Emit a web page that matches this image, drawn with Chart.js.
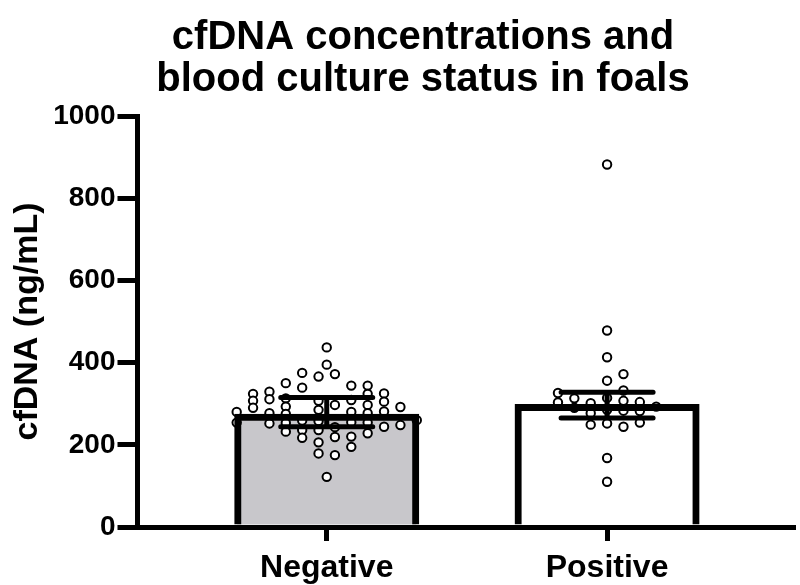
<!DOCTYPE html>
<html>
<head>
<meta charset="utf-8">
<title>cfDNA and blood culture status</title>
<script src="https://cdn.jsdelivr.net/npm/chart.js@4.4.1/dist/chart.umd.min.js"></script>
<style>
  html, body { margin: 0; padding: 0; background: #fff; }
  #wrap { width: 800px; height: 585px; }
</style>
</head>
<body>
<div id="wrap"><canvas id="chart"></canvas></div>
<script>
// Groups and summary values (bar = mean, whiskers = 95% CI).
const categories = ["Negative", "Positive"];
const barMeans = [268, 292];
const ciLow = [244, 265];
const ciHigh = [315, 328];
const yTicks = [0, 200, 400, 600, 800, 1000];

// Individual foals, with the scatter column (slot) each dot sits in.
const negValues = [
  437, 395, 122,
  366, 307, 285, 258, 236, 206, 179,
  372, 297, 243, 219, 175,
  375, 339, 259, 236, 217,
  344, 309, 280, 255, 220, 195,
  350, 313, 293, 275, 253, 232,
  344, 324, 297, 277, 254, 228,
  329, 311, 277, 252,
  325, 305, 281, 244,
  324, 307, 290,
  292, 248,
  280, 254,
  260,
];
const negSlots = [
  0, 0, 0,
  -1, -1, -1, -1, -1, -1, -1,
  1, 1, 1, 1, 1,
  -3, -3, -3, -3, -3,
  3, 3, 3, 3, 3, 3,
  -5, -5, -5, -5, -5, -5,
  5, 5, 5, 5, 5, 5,
  -7, -7, -7, -7,
  7, 7, 7, 7,
  -9, -9, -9,
  9, 9,
  -11, -11,
  11,
];
const posValues = [
  326, 303,
  313, 290,
  301, 277, 249,
  882, 478, 413, 356, 314, 285, 252, 168, 110,
  372, 332, 307, 283, 244,
  304, 282, 254,
  293,
];
const posSlots = [
  -6, -6,
  -4, -4,
  -2, -2, -2,
  0, 0, 0, 0, 0, 0, 0, 0, 0,
  2, 2, 2, 2, 2,
  4, 4, 4,
  6,
];

const SLOT = 0.0292;      // one scatter column, in x-axis units
const FONT = "'Liberation Sans', Arial, Helvetica, sans-serif";

const points = [];
negValues.forEach((v, i) => points.push({ x: 0 + negSlots[i] * SLOT, y: v }));
posValues.forEach((v, i) => points.push({ x: 1 + posSlots[i] * SLOT, y: v }));

const bars = barMeans.map((v, i) => ({ x: i, y: v }));

// Draw the CI whiskers on top of everything.
const errorBars = {
  id: "errorBars",
  afterDatasetsDraw(chart) {
    const { ctx, scales: { x, y } } = chart;
    const half = 46;
    ctx.save();
    ctx.strokeStyle = "#000";
    ctx.lineWidth = 5;
    ctx.lineCap = "round";
    categories.forEach((_, i) => {
      const px = x.getPixelForValue(i);
      const lo = y.getPixelForValue(ciLow[i]);
      const hi = y.getPixelForValue(ciHigh[i]);
      ctx.beginPath();
      ctx.moveTo(px, lo); ctx.lineTo(px, hi);
      ctx.moveTo(px - half, hi); ctx.lineTo(px + half, hi);
      ctx.moveTo(px - half, lo); ctx.lineTo(px + half, lo);
      ctx.stroke();
    });
    ctx.restore();
  },
};

new Chart(document.getElementById("chart"), {
  type: "bar",
  data: {
    datasets: [
      {
        // bar outline, drawn above the dots; inflateAmount centres the
        // thick outline on the bar edge
        type: "bar",
        data: bars,
        order: 1,
        grouped: false,
        barThickness: 179,
        backgroundColor: "rgba(0,0,0,0)",
        borderColor: "#000",
        borderWidth: 1,
        inflateAmount: 3,
      },
      {
        type: "scatter",
        data: points,
        order: 2,
        pointRadius: 4.2,
        pointBorderWidth: 2,
        pointBorderColor: "#000",
        pointBackgroundColor: "#fff",
      },
      {
        // bar fill
        type: "bar",
        data: bars,
        order: 3,
        grouped: false,
        barThickness: 179,
        backgroundColor: ["#c8c7cb", "#ffffff"],
        borderWidth: 0,
        inflateAmount: 0,
      },
    ],
  },
  options: {
    responsive: true,
    maintainAspectRatio: false,
    animation: false,
    layout: { padding: { left: 46, right: 0, top: 0, bottom: 0 } },
    plugins: {
      legend: { display: false },
      tooltip: { enabled: false },
      title: {
        display: true,
        text: ["cfDNA concentrations and", "blood culture status in foals"],
        color: "#000",
        font: { family: FONT, size: 40, weight: "bold", lineHeight: 1.05 },
        padding: { top: 17, bottom: 15 },
      },
    },
    scales: {
      x: {
        type: "linear",
        min: -0.675,
        max: 1.666,
        offset: false,
        z: 1,
        afterBuildTicks: (s) => { s.ticks = categories.map((_, i) => ({ value: i })); },
        afterFit: (s) => { s.height = 58; },
        ticks: {
          callback: (v) => categories[v],
          color: "#000",
          padding: 11,
          font: { family: FONT, size: 32, weight: "bold", lineHeight: 1 },
        },
        grid: { offset: false, drawOnChartArea: false, tickLength: 14, lineWidth: 5, color: "#000" },
        border: { display: true, width: 5, color: "#000" },
      },
      y: {
        min: 0,
        max: 1000,
        z: 1,
        afterBuildTicks: (s) => { s.ticks = yTicks.map((v) => ({ value: v })); },
        afterFit: (s) => { s.width = 91.5; },
        ticks: {
          callback: (v) => String(v),
          color: "#000",
          padding: 2,
          font: { family: FONT, size: 28, weight: "bold" },
        },
        grid: { drawOnChartArea: false, tickLength: 20, lineWidth: 5, color: "#000" },
        border: { display: true, width: 5, color: "#000" },
        title: {
          display: true,
          text: "cfDNA (ng/mL)",
          color: "#000",
          padding: { top: -35, bottom: 0 },
          font: { family: FONT, size: 34, weight: "bold", lineHeight: 1 },
        },
      },
    },
  },
  plugins: [errorBars],
});
</script>
</body>
</html>
